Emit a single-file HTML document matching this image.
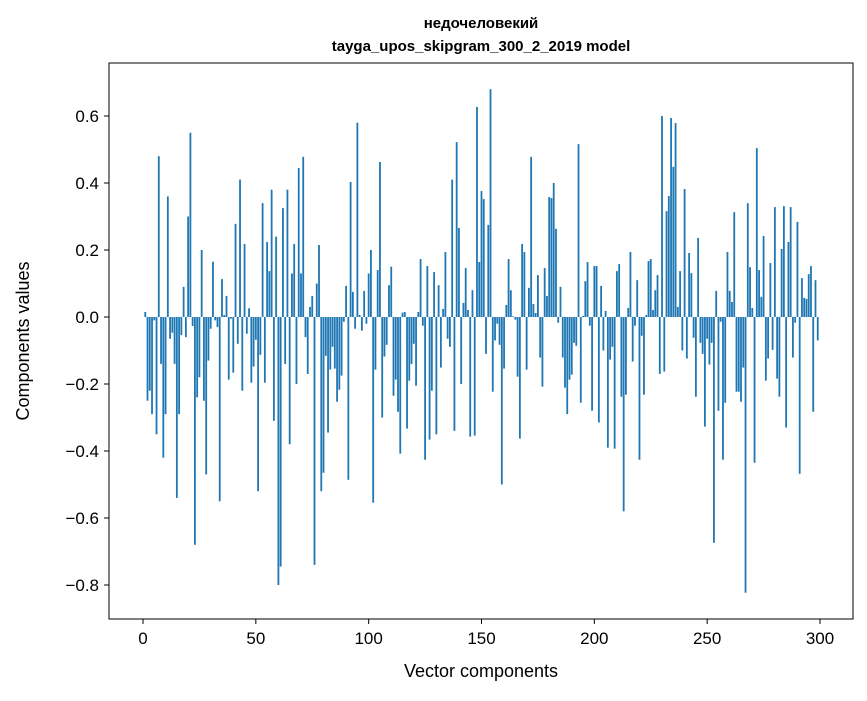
<!DOCTYPE html>
<html><head><meta charset="utf-8"><style>
body{margin:0;background:#fff}
svg text{font-family:"Liberation Sans","DejaVu Sans",sans-serif;fill:#000}
</style></head><body>
<svg id="chart" width="867" height="696" xmlns="http://www.w3.org/2000/svg">
<rect width="867" height="696" fill="#fff"/>
<text x="481" y="28" text-anchor="middle" font-size="15" font-weight="bold">недочеловекий</text>
<text x="481" y="51" text-anchor="middle" font-size="15" font-weight="bold">tayga_upos_skipgram_300_2_2019 model</text>
<g id="bars"></g>
<g id="axes"></g>
<rect x="109" y="63" width="744" height="556" fill="none" stroke="#000" stroke-width="1"/>
<text x="481" y="677" text-anchor="middle" font-size="18">Vector components</text>
<text transform="translate(29,341) rotate(-90)" text-anchor="middle" font-size="18">Components values</text>
</svg>
<script>
const values = [0,0.015,-0.25,-0.22,-0.29,-0.01,-0.35,0.48,-0.14,-0.42,-0.29,0.36,-0.065,-0.047,-0.14,-0.54,-0.29,-0.054,0.09,-0.06,0.30,0.55,-0.027,-0.68,-0.24,-0.18,0.20,-0.25,-0.47,-0.13,-0.035,0.165,-0.01,-0.03,-0.55,0.113,0.006,0.063,-0.187,-0.005,-0.166,0.278,-0.08,0.41,-0.22,0.218,-0.05,0.026,-0.196,-0.148,-0.068,-0.52,-0.113,0.34,-0.196,0.224,0.137,0.38,-0.31,0.24,-0.80,-0.745,0.325,-0.14,0.38,-0.38,0.13,0.218,-0.2,0.445,0.13,0.478,-0.06,-0.17,0.03,
0.063,-0.74,0.10,0.215,-0.52,-0.465,-0.116,-0.345,-0.157,-0.089,-0.154,-0.253,-0.217,-0.175,-0.014,0.093,-0.486,0.403,0.075,-0.035,0.58,0.006,-0.041,0.078,-0.02,0.13,0.20,-0.554,-0.157,0.14,0.463,-0.30,-0.118,-0.083,0.095,0.15,-0.235,-0.187,-0.283,-0.408,0.013,0.015,-0.333,-0.19,-0.14,-0.08,-0.205,0.015,0.173,-0.026,-0.426,0.152,-0.366,-0.22,0.134,-0.35,0.095,-0.151,0.024,0.194,-0.065,-0.089,0.41,-0.34,0.522,0.266,-0.2,0.042,0.146,0.021,-0.357,0.08,-0.354,0.627,
0.164,0.376,0.352,-0.11,0.275,0.68,-0.223,-0.07,-0.02,-0.083,-0.5,-0.154,0.036,0.173,0.08,0.002,-0.008,-0.178,-0.363,0.218,0.194,-0.157,0.087,0.478,0.039,0.012,0.125,-0.121,-0.208,0.146,0.063,0.358,0.355,0.40,0.263,-0.017,0.09,-0.121,-0.211,-0.29,-0.187,-0.172,-0.077,-0.086,0.516,-0.256,0.003,0.107,0.164,-0.026,-0.28,0.152,0.152,-0.315,0.093,-0.1,0.018,-0.39,-0.127,-0.089,-0.393,0.137,0.158,-0.238,-0.58,-0.232,0.027,0.194,-0.133,-0.026,0.11,-0.426,-0.056,-0.232,0.006,0.167,
0.173,0.021,0.08,0.125,-0.17,0.6,-0.163,0.316,0.361,0.594,0.448,0.579,0.03,0.137,-0.1,0.382,-0.124,0.191,0.131,-0.062,-0.238,0.236,-0.077,-0.11,-0.327,-0.065,-0.142,-0.077,-0.674,0.078,-0.28,-0.014,-0.426,-0.256,0.194,0.078,0.045,0.313,-0.223,-0.223,-0.253,-0.151,-0.823,0.34,0.149,0.027,-0.435,0.504,0.14,0.06,0.242,-0.19,-0.124,0.161,-0.098,0.328,-0.184,-0.238,0.203,0.331,-0.33,0.224,0.328,-0.121,-0.017,0.284,-0.468,0.116,0.057,0.054,0.128,0.152,-0.283,0.11,-0.07];
const xTicks = [0,50,100,150,200,250,300];
const yTicks = [0.6,0.4,0.2,0.0,-0.2,-0.4,-0.6,-0.8];
const yTickLabels = ["0.6","0.4","0.2","0.0","\u22120.2","\u22120.4","\u22120.6","\u22120.8"];

const NS="http://www.w3.org/2000/svg";
const xs = v => 143 + v*(677/300);
const ys = v => 317 - v*335;
const bars=document.getElementById('bars');
values.forEach((v,i)=>{
  const r=document.createElementNS(NS,'rect');
  const x0=xs(i-0.4), x1=xs(i+0.4);
  const y0=Math.min(ys(v),ys(0)), h=Math.abs(ys(v)-ys(0));
  r.setAttribute('x',x0);r.setAttribute('y',y0);
  r.setAttribute('width',x1-x0);r.setAttribute('height',Math.max(h,0.01));
  r.setAttribute('fill','#1f77b4');
  
  
  bars.appendChild(r);
});
const axes=document.getElementById('axes');
xTicks.forEach(t=>{
  const l=document.createElementNS(NS,'line');
  l.setAttribute('x1',xs(t));l.setAttribute('x2',xs(t));l.setAttribute('y1',619);l.setAttribute('y2',624);
  l.setAttribute('stroke','#000');
  
  
  axes.appendChild(l);
  const tx=document.createElementNS(NS,'text');
  tx.setAttribute('x',xs(t));tx.setAttribute('y',644);tx.setAttribute('text-anchor','middle');tx.setAttribute('font-size','17');
  tx.textContent=String(t);
  
  
  axes.appendChild(tx);
});
yTicks.forEach((t,i)=>{
  const l=document.createElementNS(NS,'line');
  l.setAttribute('x1',104);l.setAttribute('x2',109);l.setAttribute('y1',ys(t));l.setAttribute('y2',ys(t));
  l.setAttribute('stroke','#000');
  
  
  axes.appendChild(l);
  const tx=document.createElementNS(NS,'text');
  tx.setAttribute('x',99);tx.setAttribute('y',ys(t)+6);tx.setAttribute('text-anchor','end');tx.setAttribute('font-size','17');
  tx.textContent=yTickLabels[i];
  
  
  axes.appendChild(tx);
});
</script>
</body></html>
